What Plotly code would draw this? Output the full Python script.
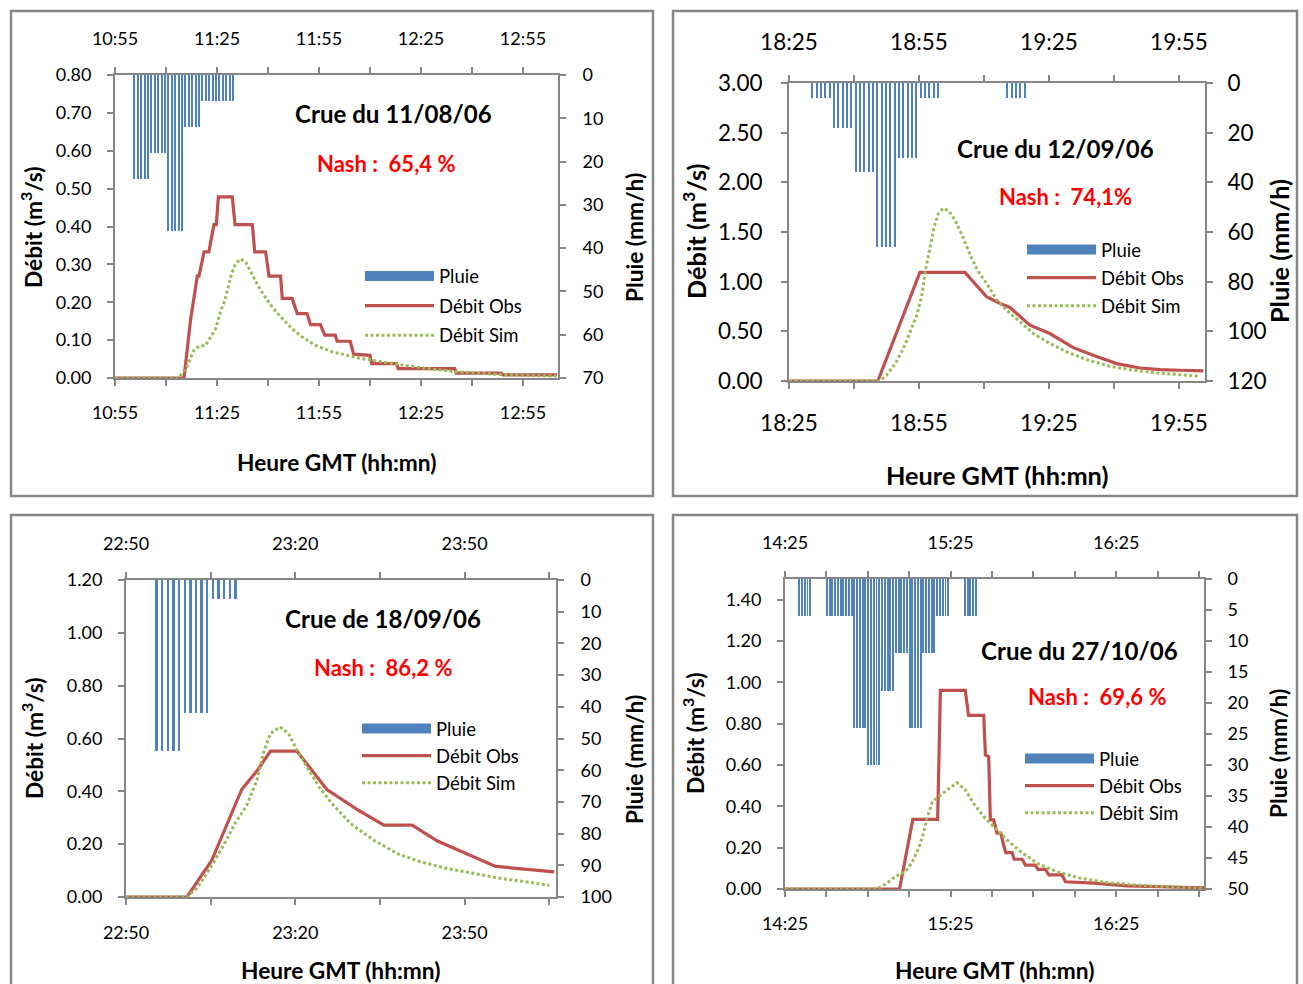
import pandas as pd
import plotly.graph_objects as go

W, H = 1303, 984
FONT = "Lato"
BLUE, RED, GREEN, GREY = "#4F81BD", "#C0504D", "#9BBB59", "#868686"

# ---------------------------------------------------------------- data
# Crue du 11/08/06  (minutes after start, discharge m3/s, rain mm/h per minute)
c1_start = "2006-08-11 10:55"
c1_obs_min = [0, 20.3, 22.2, 24.2, 24.7, 26.2, 27.6, 29.1, 29.8, 30.4, 34.5, 35.3, 40.4, 41.1, 44.3,
              45.3, 48.7, 49.2, 52.1, 53.6, 56.5, 57.5, 60.4, 61.7, 64.8, 65.3, 69.2, 70.2, 75.0, 75.5,
              82.8, 83.3, 99.9, 100.4, 113.6, 114.1, 130.0]
c1_obs_q = [0, 0, 0.152, 0.269, 0.269, 0.333, 0.333, 0.405, 0.405, 0.478, 0.478, 0.405, 0.405, 0.333,
            0.333, 0.269, 0.269, 0.21, 0.21, 0.17, 0.17, 0.141, 0.141, 0.113, 0.113, 0.097, 0.097,
            0.063, 0.060, 0.038, 0.038, 0.025, 0.025, 0.013, 0.013, 0.008, 0.008]
c1_sim_min = [0, 18.8, 21.3, 23.2, 24.7, 26.6, 28.1, 29.6, 31.1, 32.3, 33.3, 34.3, 35.5, 36.9, 38.4,
              40.4, 42.3, 44.3, 46.2, 49.2, 52.1, 55.1, 59.0, 63.9, 69.7, 72.0, 81.8, 91.6, 101.4,
              111.2, 129.8]
c1_sim_q = [0, 0, 0.033, 0.073, 0.084, 0.086, 0.108, 0.130, 0.177, 0.205, 0.240, 0.276, 0.302, 0.314,
            0.307, 0.271, 0.240, 0.212, 0.188, 0.157, 0.130, 0.108, 0.086, 0.069, 0.056, 0.052, 0.038,
            0.025, 0.016, 0.010, 0.005]
c1_rain_first_min = 5.7
c1_rain = [24, 24, 24, 24, 24, 18, 18, 18, 18, 18, 36, 36, 36, 36, 36, 12, 12, 12, 12, 12,
           6, 6, 6, 6, 6, 6, 6, 6, 6, 6]

# Crue du 12/09/06
c2_start = "2006-09-12 18:25"
c2_obs_min = [0, 20.5, 30.2, 40.6, 45.6, 48.7, 51.0, 55.6, 60.2, 65.6, 70.2, 75.6, 81.0, 85.6, 90.2, 95.6]
c2_obs_q = [0, 0, 1.093, 1.093, 0.848, 0.78, 0.74, 0.562, 0.478, 0.336, 0.259, 0.175, 0.131, 0.114,
            0.108, 0.101]
c2_sim_min = [0, 21.0, 22.5, 24.5, 26.4, 28.3, 29.5, 30.6, 31.5, 32.5, 33.5, 34.5, 35.6, 36.8, 38.3,
              40.1, 41.8, 43.7, 45.6, 48.0, 50.2, 53.3, 56.4, 60.2, 64.1, 68.7, 74.1, 79.5, 84.9, 90.2,
              94.9]
c2_sim_q = [0, 0, 0.057, 0.175, 0.326, 0.528, 0.663, 0.848, 1.117, 1.335, 1.554, 1.689, 1.739, 1.715,
            1.621, 1.453, 1.268, 1.100, 0.982, 0.814, 0.713, 0.595, 0.478, 0.377, 0.293, 0.215, 0.148,
            0.108, 0.081, 0.064, 0.047]
c2_rain_first_min = 5.4
c2_rain = [6, 6, 6, 6, 6, 18, 18, 18, 18, 18, 36, 36, 36, 36, 36, 66, 66, 66, 66, 66,
           30, 30, 30, 30, 30, 6, 6, 6, 6, 6, 0, 0, 0, 0, 0, 0, 0, 0, 0, 0, 0, 0, 0, 0, 0,
           6, 6, 6, 6, 6]

# Crue de 18/09/06
c3_start = "2006-09-18 22:50"
c3_obs_min = [0, 10.8, 15.2, 20.5, 23.3, 25.6, 30.3, 35.6, 38.0, 41.0, 45.7, 50.7, 55.2, 60.5, 65.5, 75.9]
c3_obs_q = [0, 0, 0.139, 0.407, 0.480, 0.552, 0.552, 0.407, 0.373, 0.331, 0.272, 0.272, 0.212, 0.164,
            0.116, 0.095]
c3_sim_min = [0, 10.8, 12.5, 14.3, 16.1, 17.6, 19.3, 21.4, 23.2, 24.4, 25.6, 27.3, 28.8, 30.3, 32.4,
              34.4, 36.5, 38.6, 39.8, 43.9, 48.1, 52.2, 56.9, 61.7, 66.4, 71.1, 75.0]
c3_sim_q = [0, 0, 0.032, 0.088, 0.152, 0.208, 0.278, 0.347, 0.442, 0.549, 0.619, 0.644, 0.619, 0.556,
            0.480, 0.411, 0.354, 0.303, 0.278, 0.215, 0.164, 0.133, 0.108, 0.089, 0.070, 0.057, 0.044]
c3_rain_first_min = 5.45
c3_rain = [54, 54, 54, 54, 54, 42, 42, 42, 42, 42, 6, 6, 6, 6, 6]

# Crue du 27/10/06
c4_start = "2006-10-27 14:25"
c4_obs_min = [0, 41.5, 46.3, 55.3, 56.3, 65.3, 66.5, 72.0, 72.6, 73.8, 74.4, 75.6, 76.8, 78.2, 79.2,
              80.0, 82.3, 83.0, 85.9, 87.1, 90.7, 91.6, 94.4, 95.6, 100.4, 101.6, 111.9, 124.0, 136.1,
              151.8]
c4_obs_q = [0, 0, 0.337, 0.337, 0.961, 0.961, 0.840, 0.840, 0.649, 0.641, 0.334, 0.334, 0.270, 0.270,
            0.213, 0.176, 0.176, 0.144, 0.144, 0.116, 0.116, 0.095, 0.095, 0.068, 0.068, 0.035, 0.028,
            0.015, 0.011, 0.006]
c4_sim_min = [0, 33.3, 36.9, 39.9, 43.6, 46.0, 48.4, 50.2, 51.4, 53.2, 55.1, 58.7, 62.3, 65.3, 68.3,
              72.0, 75.6, 80.5, 85.3, 91.4, 98.6, 107.1, 116.8, 127.7, 138.5, 151.3]
c4_sim_q = [0, 0, 0.027, 0.060, 0.084, 0.128, 0.197, 0.270, 0.342, 0.415, 0.442, 0.480, 0.515, 0.480,
            0.415, 0.350, 0.302, 0.237, 0.181, 0.124, 0.083, 0.052, 0.031, 0.019, 0.011, 0.003]
c4_rain_first_min = 5.15
c4_rain = [6, 6, 6, 6, 6, 0, 0, 0, 0, 0, 6, 6, 6, 6, 6, 6, 6, 6, 6, 6, 24, 24, 24, 24, 24,
           30, 30, 30, 30, 30, 18, 18, 18, 18, 18, 12, 12, 12, 12, 12, 24, 24, 24, 24, 24,
           12, 12, 12, 12, 12, 6, 6, 6, 6, 6, 0, 0, 0, 0, 0, 6, 6, 6, 6, 6]

titles = ["Crue du 11/08/06", "Crue du 12/09/06", "Crue de 18/09/06", "Crue du 27/10/06"]
nash_texts = ["Nash :  65,4 %", "Nash :  74,1%", "Nash :  86,2 %", "Nash :  69,6 %"]
series_names = ["Pluie", "Débit Obs", "Débit Sim"]
y_title = "Débit (m<sup>3</sup>/s)"
y2_title = "Pluie (mm/h)"
x_title = "Heure GMT (hh:mn)"

# ---------------------------------------------------------------- layout specs (pixels)
panels = [
    dict(start=c1_start, obs=(c1_obs_min, c1_obs_q), sim=(c1_sim_min, c1_sim_q),
         rain=(c1_rain_first_min, c1_rain), span=130.3, xdt=30, qmax=0.8, qdt=0.1, rmax=70, rdt=10,
         box=(11, 11, 653, 496), plot=(115, 75, 558, 378), fs=18, fst=22.7, barw=0.33,
         title=(393, 113), nash=(386, 164), yt=(31, 227), y2t=(634, 238), xt=(336, 462),
         leg=(360, 306), gap=2.5, so=(12, 15, 11, 13)),
    dict(start=c2_start, obs=(c2_obs_min, c2_obs_q), sim=(c2_sim_min, c2_sim_q),
         rain=(c2_rain_first_min, c2_rain), span=96.0, xdt=30, qmax=3.0, qdt=0.5, rmax=120, rdt=20,
         box=(673, 11, 1297, 496), plot=(789, 83, 1205, 381), fs=22.5, fst=25.3, barw=0.28,
         title=(1055, 148), nash=(1065, 196), yt=(694, 231), y2t=(1279, 251), xt=(997, 475),
         leg=(1022, 278), gap=1, so=(14, 16, 15, 10)),
    dict(start=c3_start, obs=(c3_obs_min, c3_obs_q), sim=(c3_sim_min, c3_sim_q),
         rain=(c3_rain_first_min, c3_rain), span=76.2, xdt=30, qmax=1.2, qdt=0.2, rmax=100, rdt=10,
         box=(11, 515, 653, 992), plot=(126, 580, 556, 897), fs=18, fst=22.7, barw=0.33,
         title=(383, 618), nash=(383, 667), yt=(32, 738), y2t=(634, 760), xt=(340, 970),
         leg=(357, 756), gap=0, so=(12, 15, 12, 13)),
    dict(start=c4_start, obs=(c4_obs_min, c4_obs_q), sim=(c4_sim_min, c4_sim_q),
         rain=(c4_rain_first_min, c4_rain), span=151.8, xdt=60, qmax=1.5, qdt=0.2, rmax=50, rdt=5,
         box=(673, 515, 1297, 992), plot=(785, 579, 1204, 889), fs=18, fst=22.7, barw=0.36,
         title=(1079, 650), nash=(1097, 696), yt=(693, 733), y2t=(1278, 754), xt=(994, 970),
         leg=(1020, 786), gap=0, so=(12, 15, 11, 12)),
]


def px(x):
    return x / W


def py(y):
    return 1 - y / H


def times(start, mins):
    s = pd.Timestamp(start)
    return [s + pd.Timedelta(minutes=m) for m in mins]


fig = go.Figure()
annotations, shapes = [], []
layout = dict(width=W, height=H, margin=dict(l=0, r=0, t=0, b=0, pad=0, autoexpand=False),
              paper_bgcolor="white", plot_bgcolor="rgba(0,0,0,0)", showlegend=True,
              font=dict(family=FONT, color="black"))

for k, p in enumerate(panels):
    xb = "x" if k == 0 else f"x{2 * k + 1}"
    xt = f"x{2 * k + 2}"
    yl = "y" if k == 0 else f"y{2 * k + 1}"
    yr = f"y{2 * k + 2}"
    leg = "legend" if k == 0 else f"legend{k + 1}"
    start = pd.Timestamp(p["start"])
    end = start + pd.Timedelta(minutes=p["span"])

    first, rain = p["rain"]
    rain_t = [start + pd.Timedelta(minutes=first + i) for i in range(len(rain))]

    fig.add_trace(go.Scatter(x=[None], y=[None], mode="lines", name=series_names[0],
                             line=dict(color=BLUE, width=12), xaxis=xb, yaxis=yl,
                             legend=leg, legendgroup=f"p{k}a", hoverinfo="skip"))
    fig.add_trace(go.Scatter(x=times(p["start"], p["obs"][0]), y=p["obs"][1], mode="lines",
                             name=series_names[1], line=dict(color=RED, width=3.2),
                             xaxis=xb, yaxis=yl, legend=leg, legendgroup=f"p{k}b"))
    fig.add_trace(go.Scatter(x=times(p["start"], p["sim"][0]), y=p["sim"][1], mode="lines",
                             name=series_names[2], line=dict(color=GREEN, width=3, dash="3px,2.5px"),
                             xaxis=xb, yaxis=yl, legend=leg, legendgroup=f"p{k}c"))
    fig.add_trace(go.Bar(x=rain_t, y=rain, width=p["barw"] * 60000,
                         marker=dict(color=BLUE, line=dict(width=0)),
                         xaxis=xt, yaxis=yr, showlegend=False, name=series_names[0]))

    x0, y0, x1, y1 = p["plot"]
    so_l, so_t, so_b, so_r = p["so"]
    tickfont = dict(family=FONT, size=p["fs"], color="black")
    common = dict(showgrid=False, zeroline=False, showline=True, linecolor=GREY, linewidth=2,
                  ticks="outside", ticklen=6, tickwidth=1.5, tickcolor=GREY, tickfont=tickfont,
                  automargin=False)
    xcommon = dict(type="date", range=[start, end], tick0=start, dtick=p["xdt"] * 60000,
                   tickformat="%H:%M",
                   minor=dict(tick0=start, dtick=15 * 60000, ticks="outside", ticklen=6,
                              tickwidth=1.5, tickcolor=GREY, showgrid=False), **common)
    layout["xaxis" + xb[1:]] = dict(domain=[px(x0), px(x1)], anchor=yl, side="bottom",
                                    ticklabelstandoff=so_b, **xcommon)
    layout["xaxis" + xt[1:]] = dict(overlaying=xb, anchor=yr, side="top",
                                    ticklabelstandoff=so_t, **xcommon)
    layout["yaxis" + yl[1:]] = dict(domain=[py(y1), py(y0)], anchor=xb, side="left",
                                    range=[0, p["qmax"]], tick0=0, dtick=p["qdt"], tickformat=".2f",
                                    ticklabelstandoff=so_l, **common)
    layout["yaxis" + yr[1:]] = dict(overlaying=yl, anchor=xt, side="right",
                                    range=[p["rmax"], 0], tick0=0, dtick=p["rdt"], tickformat="d",
                                    ticklabelstandoff=so_r, **common)

    lx, ly = p["leg"]
    layout[leg] = dict(x=px(lx), y=py(ly), xanchor="left", yanchor="middle",
                       bgcolor="rgba(0,0,0,0)", borderwidth=0, itemwidth=69,
                       traceorder="grouped", tracegroupgap=p["gap"],
                       font=dict(family=FONT, size=18.5, color="black"))

    bx0, by0, bx1, by1 = p["box"]
    shapes.append(dict(type="rect", xref="paper", yref="paper", x0=px(bx0), x1=px(bx1),
                       y0=py(by1), y1=py(by0), line=dict(color=GREY, width=2.5), layer="below"))

    def ann(text, pos, size, color="black", angle=0):
        annotations.append(dict(text=text, x=px(pos[0]), y=py(pos[1]), xref="paper", yref="paper",
                                xanchor="center", yanchor="middle", showarrow=False, textangle=angle,
                                font=dict(family=FONT, size=size, color=color, weight="bold")))

    ann(titles[k], p["title"], 24.1)
    ann(nash_texts[k], p["nash"], 22, color="#FF0000")
    ann(y_title, p["yt"], p["fst"], angle=-90)
    ann(y2_title, p["y2t"], p["fst"], angle=-90)
    ann(x_title, p["xt"], p["fst"])

layout["annotations"] = annotations
layout["shapes"] = shapes
fig.update_layout(**layout)
fig.update_layout(bargap=0)
fig.write_html("out.html")
